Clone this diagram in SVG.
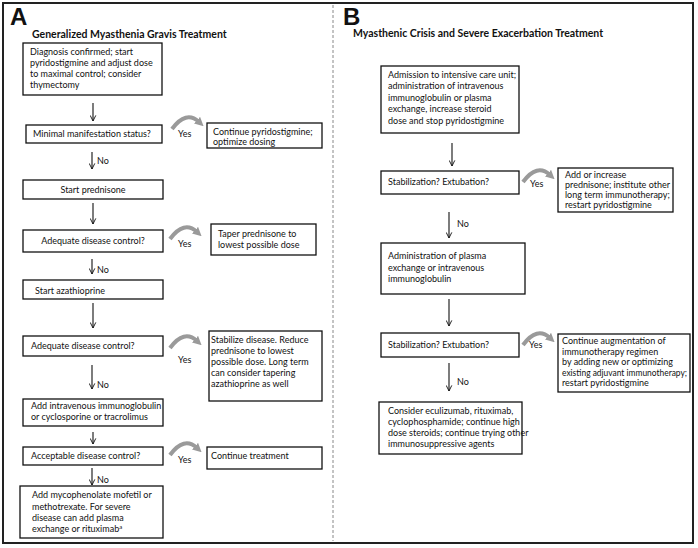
<svg xmlns="http://www.w3.org/2000/svg" width="698" height="548" viewBox="0 0 698 548">
<defs>
<style>
.t{font-family:Lato,"Open Sans","Liberation Sans",sans-serif;font-size:9px;fill:#111}
.h{font-family:Lato,"Open Sans","Liberation Sans",sans-serif;font-size:10.5px;font-weight:bold;fill:#111}
.L{font-family:"Liberation Sans",Arial,sans-serif;font-size:24px;font-weight:bold;fill:#111}
.b{fill:#fff;stroke:#111;stroke-width:1.3}
.a{stroke:#111;stroke-width:1.1;fill:none;marker-end:url(#v)}
.y{stroke:#9a9a9a;stroke-width:4;fill:none;marker-end:url(#g)}
.m{text-anchor:middle}
</style>
<marker id="v" viewBox="0 0 10 10" refX="9" refY="5" markerWidth="7" markerHeight="7" markerUnits="userSpaceOnUse" orient="auto">
<path d="M1,1 L9,5 L1,9" fill="none" stroke="#111" stroke-width="1.3"/>
</marker>
<marker id="g" viewBox="0 0 10 10" refX="3" refY="5" markerWidth="9" markerHeight="9" markerUnits="userSpaceOnUse" orient="auto">
<path d="M0,0 L10,5 L0,10 Z" fill="#9a9a9a"/>
</marker>
</defs>
<rect x="0" y="0" width="698" height="548" fill="#fff"/>
<rect x="3" y="3" width="690" height="540" fill="none" stroke="#222" stroke-width="2"/>
<line x1="333" y1="5" x2="333" y2="541" stroke="#888" stroke-width="1" stroke-dasharray="3,2"/>
<text class="L" x="10" y="25">A</text>
<text class="L" x="343" y="25">B</text>
<text class="h" x="32" y="38">Generalized Myasthenia Gravis Treatment</text>
<text class="h" x="353" y="37">Myasthenic Crisis and Severe Exacerbation Treatment</text>

<g id="connectors">
<line class="a" x1="93" y1="103" x2="93" y2="121"/>
<line class="a" x1="92" y1="152" x2="92" y2="169"/>
<line class="a" x1="93" y1="203" x2="93" y2="224"/>
<line class="a" x1="92" y1="259" x2="92" y2="274"/>
<line class="a" x1="93" y1="303" x2="93" y2="328"/>
<line class="a" x1="92" y1="365" x2="92" y2="389"/>
<line class="a" x1="93" y1="432" x2="93" y2="444"/>
<line class="a" x1="92" y1="468" x2="92" y2="485"/>
<line class="a" x1="452" y1="143" x2="452" y2="166"/>
<line class="a" x1="449" y1="212" x2="449" y2="238"/>
<line class="a" x1="449" y1="299" x2="449" y2="326"/>
<line class="a" x1="449" y1="363" x2="449" y2="391"/>
<path class="y" d="M172,129 Q186,110 199,122"/>
<path class="y" d="M170,239 Q184,220 197,232"/>
<path class="y" d="M170,348 Q184,329 197,341"/>
<path class="y" d="M170,455 Q184,436 197,448"/>
<path class="y" d="M523,182 Q537,163 550,175"/>
<path class="y" d="M523,345 Q537,326 550,338"/>
<text class="t" x="97" y="164">No</text>
<text class="t" x="97" y="273">No</text>
<text class="t" x="97" y="388">No</text>
<text class="t" x="97" y="483">No</text>
<text class="t" x="457" y="227">No</text>
<text class="t" x="457" y="385">No</text>
<text class="t" x="178" y="137">Yes</text>
<text class="t" x="178" y="247">Yes</text>
<text class="t" x="178" y="363">Yes</text>
<text class="t" x="178" y="463">Yes</text>
<text class="t" x="530" y="187">Yes</text>
<text class="t" x="529" y="348">Yes</text>
</g>

<g id="a1"><rect class="b" x="23" y="43" width="139" height="52"/>
<text class="t" x="30" y="54.5">Diagnosis confirmed; start</text>
<text class="t" x="30" y="65.5">pyridostigmine and adjust dose</text>
<text class="t" x="30" y="76.5">to maximal control; consider</text>
<text class="t" x="30" y="87.5">thymectomy</text></g>
<g id="a2"><rect class="b" x="26" y="125" width="136" height="18"/>
<text class="t" x="33" y="137">Minimal manifestation status?</text></g>
<g id="a2y"><rect class="b" x="207" y="123" width="115" height="25"/>
<text class="t" x="213" y="134.5">Continue pyridostigmine;</text>
<text class="t" x="213" y="145">optimize dosing</text></g>
<g id="a3"><rect class="b" x="23" y="180" width="140" height="19"/>
<text class="t m" x="93" y="193">Start prednisone</text></g>
<g id="a4"><rect class="b" x="23" y="230" width="140" height="22"/>
<text class="t m" x="93" y="244">Adequate disease control?</text></g>
<g id="a4y"><rect class="b" x="211" y="224" width="105" height="31"/>
<text class="t" x="218" y="237">Taper prednisone to</text>
<text class="t" x="218" y="248">lowest possible dose</text></g>
<g id="a5"><rect class="b" x="23" y="280" width="140" height="19"/>
<text class="t" x="35" y="293.5">Start azathioprine</text></g>
<g id="a6"><rect class="b" x="23" y="336" width="140" height="20"/>
<text class="t" x="31" y="349">Adequate disease control?</text></g>
<g id="a6y"><rect class="b" x="209" y="331" width="113" height="70"/>
<text class="t" x="211" y="343">Stabilize disease.  Reduce</text>
<text class="t" x="211" y="354">prednisone to lowest</text>
<text class="t" x="211" y="365">possible dose. Long term</text>
<text class="t" x="211" y="376">can consider tapering</text>
<text class="t" x="211" y="387">azathioprine as well</text></g>
<g id="a7"><rect class="b" x="23" y="399" width="140" height="27"/>
<text class="t" x="31" y="409">Add intravenous immunoglobulin</text>
<text class="t" x="31" y="420">or cyclosporine or tracrolimus</text></g>
<g id="a8"><rect class="b" x="23" y="447" width="140" height="18"/>
<text class="t" x="31" y="458.5">Acceptable disease control?</text></g>
<g id="a8y"><rect class="b" x="207" y="447" width="115" height="22"/>
<text class="t" x="211" y="458.5">Continue treatment</text></g>
<g id="a9"><rect class="b" x="20" y="486" width="143" height="52"/>
<text class="t" x="32" y="498">Add mycophenolate mofetil or</text>
<text class="t" x="32" y="509.5">methotrexate. For severe</text>
<text class="t" x="32" y="521">disease can add plasma</text>
<text class="t" x="32" y="532">exchange or rituximab<tspan font-size="6" dy="-3.5">a</tspan></text></g>

<g id="b1"><rect class="b" x="381" y="66" width="138" height="67"/>
<text class="t" x="388" y="77.5">Admission to intensive care unit;</text>
<text class="t" x="388" y="89">administration of intravenous</text>
<text class="t" x="388" y="100.5">immunoglobulin or plasma</text>
<text class="t" x="388" y="112">exchange, increase steroid</text>
<text class="t" x="388" y="123.5">dose and stop pyridostigmine</text></g>
<g id="b2"><rect class="b" x="381" y="171" width="138" height="23"/>
<text class="t" x="388" y="185">Stabilization? Extubation?</text></g>
<g id="b2y"><rect class="b" x="558" y="168" width="115" height="44"/>
<text class="t" x="565" y="177.5">Add or increase</text>
<text class="t" x="565" y="188">prednisone; institute other</text>
<text class="t" x="565" y="198">long term immunotherapy;</text>
<text class="t" x="565" y="207.5">restart pyridostigmine</text></g>
<g id="b3"><rect class="b" x="381" y="243" width="144" height="51"/>
<text class="t" x="388" y="259">Administration of plasma</text>
<text class="t" x="388" y="270.5">exchange or intravenous</text>
<text class="t" x="388" y="282">immunoglobulin</text></g>
<g id="b4"><rect class="b" x="381" y="333" width="138" height="24"/>
<text class="t" x="388" y="347.5">Stabilization? Extubation?</text></g>
<g id="b4y"><rect class="b" x="558" y="334" width="132" height="58"/>
<text class="t" x="562" y="343.5">Continue augmentation of</text>
<text class="t" x="562" y="354.5">immunotherapy regimen</text>
<text class="t" x="562" y="365">by adding new or optimizing</text>
<text class="t" x="562" y="375.5" textLength="125" lengthAdjust="spacingAndGlyphs">existing adjuvant immunotherapy;</text>
<text class="t" x="562" y="386">restart pyridostigmine</text></g>
<g id="b5"><rect class="b" x="379" y="402" width="143" height="52"/>
<text class="t" x="388" y="413.5">Consider eculizumab, rituximab,</text>
<text class="t" x="388" y="424.5">cyclophosphamide; continue high</text>
<text class="t" x="388" y="436">dose steroids; continue trying other</text>
<text class="t" x="388" y="447">immunosuppressive agents</text></g>
</svg>
